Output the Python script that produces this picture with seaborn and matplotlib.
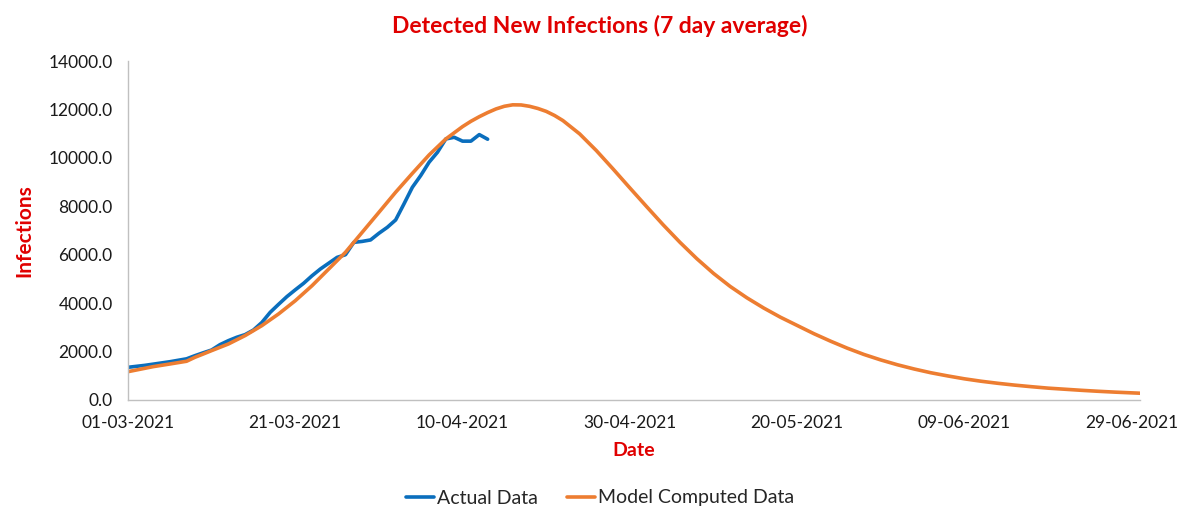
import numpy as np
import pandas as pd
import matplotlib
matplotlib.use("Agg")
import matplotlib.pyplot as plt
import matplotlib.dates as mdates
from matplotlib.ticker import FuncFormatter, MultipleLocator
import seaborn as sns

# ---- data ----
start = pd.Timestamp("2021-03-01")

actual_days = list(range(0, 44))
actual_values = [1350, 1390, 1430, 1480, 1530, 1580, 1640, 1700, 1830, 1950,
                 2065, 2286, 2450, 2590, 2700, 2890, 3200, 3620, 3950, 4270,
                 4550, 4820, 5130, 5410, 5650, 5890, 6000, 6510, 6550, 6610,
                 6885, 7130, 7435, 8100, 8785, 9270, 9820, 10230, 10780, 10850,
                 10690, 10690, 10960, 10770]

model_days = [0, 3, 5, 7, 8, 9, 10, 12, 14, 16, 18, 20, 22, 24, 26, 28, 30, 32,
              34, 36, 38, 40, 41, 42, 43, 44, 45, 46, 47, 48, 49, 50, 51, 52,
              54, 56, 58, 60, 62, 64, 66, 68, 70, 72, 74, 76, 78, 80, 82, 84,
              86, 88, 90, 92, 94, 96, 98, 100, 102, 104, 106, 108, 110, 112,
              114, 116, 118, 120, 121]
model_values = [1170, 1377, 1487, 1600, 1763, 1900, 2040, 2313, 2660, 3070,
                3553, 4100, 4720, 5410, 6100, 6925, 7750, 8580, 9360, 10120,
                10780, 11290, 11510, 11700, 11870, 12020, 12130, 12190, 12185,
                12130, 12040, 11920, 11750, 11540, 10990, 10300, 9540, 8760,
                7990, 7230, 6510, 5840, 5230, 4690, 4220, 3800, 3420, 3080,
                2740, 2430, 2140, 1880, 1655, 1455, 1280, 1125, 995, 875, 775,
                690, 615, 550, 490, 445, 400, 360, 325, 295, 280]

tick_dates = ["2021-03-01", "2021-03-21", "2021-04-10", "2021-04-30",
              "2021-05-20", "2021-06-09", "2021-06-29"]

series_names = ["Actual Data", "Model Computed Data"]
colors = ["#0A6EBD", "#ED7D31"]

# ---- frame ----
df = pd.concat([
    pd.DataFrame({"Date": start + pd.to_timedelta(actual_days, unit="D"),
                  "Infections": actual_values, "Series": series_names[0]}),
    pd.DataFrame({"Date": start + pd.to_timedelta(model_days, unit="D"),
                  "Infections": model_values, "Series": series_names[1]}),
], ignore_index=True)

sns.set_theme(style="white")
plt.rcParams["font.family"] = ["Lato", "DejaVu Sans"]

fig = plt.figure(figsize=(12, 5.26), dpi=100)
ax = fig.add_axes([128 / 1200, 1 - 400 / 526, (1140 - 128) / 1200, (400 - 61) / 526])

sns.lineplot(data=df, x="Date", y="Infections", hue="Series",
             palette=dict(zip(series_names, colors)), linewidth=2.6,
             ax=ax, legend=False)

ax.set_xlim(start, pd.Timestamp("2021-06-30"))
ax.set_ylim(0, 14000)
ax.yaxis.set_major_locator(MultipleLocator(2000))
ax.yaxis.set_major_formatter(FuncFormatter(lambda v, p: f"{v:.1f}"))
ax.set_xticks(pd.to_datetime(tick_dates))
ax.xaxis.set_major_formatter(mdates.DateFormatter("%d-%m-%Y"))

for s in ["top", "right"]:
    ax.spines[s].set_visible(False)
for s in ["left", "bottom"]:
    ax.spines[s].set_color("#C0C0C0")
    ax.spines[s].set_linewidth(1.0)
ax.tick_params(axis="both", which="major", direction="out", length=5,
               width=1, color="#C0C0C0", labelsize=12.5, labelcolor="#1a1a1a",
               pad=6)
ax.grid(False)

ax.set_xlabel("Date", color="#E00000", fontsize=14, fontweight="bold", labelpad=8)
ax.set_ylabel("Infections", color="#E00000", fontsize=15, fontweight="bold", labelpad=10)
fig.text(0.5, 1 - 26 / 526, "Detected New Infections (7 day average)",
         ha="center", va="center", color="#E00000", fontsize=16.5, fontweight="bold")

handles = [plt.Line2D([0], [0], color=c, lw=2.6) for c in colors]
fig.legend(handles, series_names, loc="center", bbox_to_anchor=(0.5, 1 - 498 / 526),
           ncol=2, frameon=False, fontsize=14, handlelength=1.45,
           handletextpad=0.15, columnspacing=1.5)

fig.savefig("out.png", dpi=100, facecolor="white")
